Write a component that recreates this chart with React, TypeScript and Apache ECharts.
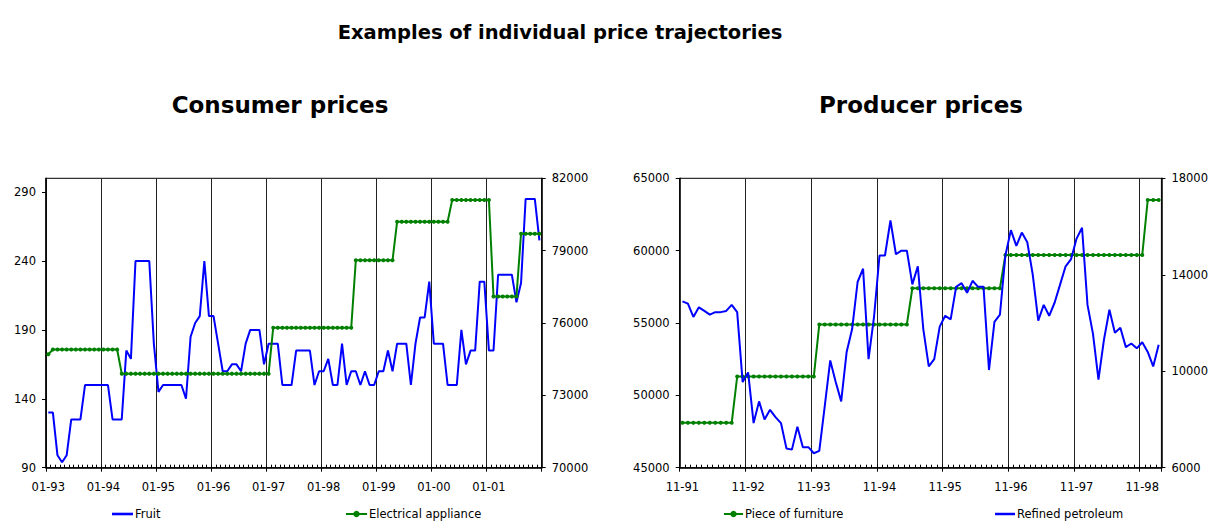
import React, { useEffect, useRef } from "react";
import * as echarts from "echarts";

// ---------- DATA ----------
const consumerTickLabels = ["01-93", "01-94", "01-95", "01-96", "01-97", "01-98", "01-99", "01-00", "01-01"];
const producerTickLabels = ["11-91", "11-92", "11-93", "11-94", "11-95", "11-96", "11-97", "11-98"];
const consumerMonthCount = 108;
const producerMonthCount = 88;

const fruit = [
  130, 130, 99, 94, 99, 125, 125, 125, 150, 150, 150, 150,
  150, 150, 125, 125, 125, 175, 169, 240, 240, 240, 240, 180,
  145, 150, 150, 150, 150, 150, 140, 185, 195, 200, 240, 200,
  200, 180, 160, 160, 165, 165, 160, 180, 190, 190, 190, 165,
  180, 180, 180, 150, 150, 150, 175, 175, 175, 175, 150, 160,
  160, 169, 150, 150, 180, 150, 160, 160, 150, 160, 150, 150,
  160, 160, 175, 160, 180, 180, 180, 150, 180, 199, 199, 225,
  180, 180, 180, 150, 150, 150, 190, 165, 175, 175, 225, 225,
  175, 175, 230, 230, 230, 230, 210, 224, 285, 285, 285, 255,
];

const electricalAppliance = [
  74700, 74900, 74900, 74900, 74900, 74900, 74900, 74900, 74900, 74900, 74900, 74900,
  74900, 74900, 74900, 74900, 73900, 73900, 73900, 73900, 73900, 73900, 73900, 73900,
  73900, 73900, 73900, 73900, 73900, 73900, 73900, 73900, 73900, 73900, 73900, 73900,
  73900, 73900, 73900, 73900, 73900, 73900, 73900, 73900, 73900, 73900, 73900, 73900,
  73900, 75800, 75800, 75800, 75800, 75800, 75800, 75800, 75800, 75800, 75800, 75800,
  75800, 75800, 75800, 75800, 75800, 75800, 75800, 78600, 78600, 78600, 78600, 78600,
  78600, 78600, 78600, 78600, 80200, 80200, 80200, 80200, 80200, 80200, 80200, 80200,
  80200, 80200, 80200, 80200, 81100, 81100, 81100, 81100, 81100, 81100, 81100, 81100,
  81100, 77100, 77100, 77100, 77100, 77100, 77100, 79700, 79700, 79700, 79700, 79700,
];

const pieceOfFurniture = [
  48100, 48100, 48100, 48100, 48100, 48100, 48100, 48100, 48100, 48100, 51300, 51300,
  51300, 51300, 51300, 51300, 51300, 51300, 51300, 51300, 51300, 51300, 51300, 51300,
  51300, 54900, 54900, 54900, 54900, 54900, 54900, 54900, 54900, 54900, 54900, 54900,
  54900, 54900, 54900, 54900, 54900, 54900, 57400, 57400, 57400, 57400, 57400, 57400,
  57400, 57400, 57400, 57400, 57400, 57400, 57400, 57400, 57400, 57400, 57400, 59700,
  59700, 59700, 59700, 59700, 59700, 59700, 59700, 59700, 59700, 59700, 59700, 59700,
  59700, 59700, 59700, 59700, 59700, 59700, 59700, 59700, 59700, 59700, 59700, 59700,
  59700, 63500, 63500, 63500,
];

const refinedPetroleum = [
  12900, 12800, 12250, 12650, 12500, 12350, 12450, 12450, 12500, 12750, 12450, 9550,
  9950, 7850, 8750, 8000, 8400, 8100, 7850, 6800, 6750, 7700, 6850, 6850,
  6600, 6700, 8550, 10450, 9550, 8750, 10800, 11750, 13700, 14250, 10500, 12250,
  14800, 14800, 16250, 14850, 15000, 15000, 13600, 14350, 11750, 10200, 10500, 11850,
  12300, 12150, 13500, 13650, 13250, 13750, 13500, 13500, 10050, 12050, 12350, 14800,
  15850, 15200, 15750, 15350, 14000, 12100, 12750, 12300, 12850, 13600, 14350, 14650,
  15500, 15950, 12750, 11550, 9650, 11300, 12550, 11600, 11800, 11000, 11150, 10950,
  11200, 10800, 10200, 11100,
];

// ---------- helpers ----------
function monthsFromTickLabels(ticks: string[], count: number): string[] {
  const out: string[] = [];
  ticks.forEach((t) => {
    const [mStr, yStr] = t.split("-");
    let m = parseInt(mStr, 10);
    let y = parseInt(yStr, 10);
    for (let k = 0; k < 12; k++) {
      out.push(String(m).padStart(2, "0") + "-" + String(y % 100).padStart(2, "0"));
      m += 1;
      if (m > 12) {
        m = 1;
        y += 1;
      }
    }
  });
  while (out.length < count) out.push("");
  return out.slice(0, count);
}

const consumerMonths = monthsFromTickLabels(consumerTickLabels, consumerMonthCount);
const producerMonths = monthsFromTickLabels(producerTickLabels, producerMonthCount);

const FONT = "DejaVu Sans";
const BLUE = "#0000FF";
const GREEN = "#008000";

const GRID_TOP = 178.3;
const GRID_H = 289.4;

function mainXAxis(gridIndex: number, data: string[]) {
  return {
    type: "category",
    gridIndex,
    data,
    boundaryGap: true,
    position: "bottom",
    axisLine: { show: true, onZero: false, lineStyle: { color: "#000", width: 1.5 } },
    axisTick: { show: true, interval: 11, inside: false, length: 4, lineStyle: { color: "#000", width: 1 } },
    axisLabel: { show: true, interval: 11, margin: 13, color: "#000", fontFamily: FONT, fontSize: 11.5 },
    splitLine: { show: true, interval: 11, lineStyle: { color: "#222", width: 1 } },
  };
}

function minorXAxis(gridIndex: number, data: string[]) {
  return {
    type: "category",
    gridIndex,
    data,
    boundaryGap: true,
    position: "bottom",
    axisLine: { show: false, onZero: false },
    axisTick: { show: true, interval: 0, inside: true, length: 3, lineStyle: { color: "#000", width: 1 } },
    axisLabel: { show: false },
    splitLine: { show: false },
  };
}

function valueYAxis(gridIndex: number, position: string, min: number, max: number, interval: number) {
  return {
    type: "value",
    gridIndex,
    position,
    min,
    max,
    interval,
    axisLine: { show: true, onZero: false, lineStyle: { color: "#000", width: 1.5 } },
    axisTick: { show: true, inside: false, length: 4, lineStyle: { color: "#000", width: 1 } },
    axisLabel: {
      show: true,
      margin: 10,
      showMaxLabel: (max - min) % interval === 0,
      color: "#000",
      fontFamily: FONT,
      fontSize: 11.5,
      formatter: (v: number) => String(v),
    },
    splitLine: { show: false },
  };
}

const THIN_LINE_ICON = "path://M0,0L21,0L21,2.6L0,2.6Z";

function legendAt(name: string, left: number, itemWidth: number, plainLine: boolean) {
  return {
    show: true,
    data: plainLine ? [{ name, icon: THIN_LINE_ICON }] : [name],
    left,
    top: 508,
    orient: "horizontal",
    itemWidth,
    itemHeight: 8,
    itemGap: 0,
    padding: 0,
    symbolKeepAspect: true,
    textStyle: {
      color: "#000",
      fontFamily: FONT,
      fontSize: 11.5,
      padding: [0, 0, 0, -3],
    },
  };
}

export default function App() {
  const ref = useRef<HTMLDivElement>(null);

  useEffect(() => {
    if (!ref.current) return;
    const chart = echarts.init(ref.current, undefined, { renderer: "svg" });

    const option: any = {
      animation: false,
      backgroundColor: "#fff",
      textStyle: { fontFamily: FONT },
      graphic: [
        {
          type: "text",
          x: 560,
          y: 32,
          style: {
            text: "Examples of individual price trajectories",
            fontFamily: FONT,
            fontWeight: "bold",
            fontSize: 19.5,
            fill: "#000",
            align: "center",
            verticalAlign: "middle",
          },
        },
        {
          type: "text",
          x: 280,
          y: 105,
          style: {
            text: "Consumer prices",
            fontFamily: FONT,
            fontWeight: "bold",
            fontSize: 23,
            fill: "#000",
            align: "center",
            verticalAlign: "middle",
          },
        },
        {
          type: "text",
          x: 921,
          y: 105,
          style: {
            text: "Producer prices",
            fontFamily: FONT,
            fontWeight: "bold",
            fontSize: 23,
            fill: "#000",
            align: "center",
            verticalAlign: "middle",
          },
        },
      ],
      grid: [
        { left: 46, top: GRID_TOP, width: 495.7, height: GRID_H, show: true, borderColor: "#000", borderWidth: 1, backgroundColor: "transparent", containLabel: false },
        { left: 679.7, top: GRID_TOP, width: 482, height: GRID_H, show: true, borderColor: "#000", borderWidth: 1, backgroundColor: "transparent", containLabel: false },
      ],
      xAxis: [
        mainXAxis(0, consumerMonths),
        minorXAxis(0, consumerMonths),
        mainXAxis(1, producerMonths),
        minorXAxis(1, producerMonths),
      ],
      yAxis: [
        valueYAxis(0, "left", 90, 300, 50),
        valueYAxis(0, "right", 70000, 82000, 3000),
        valueYAxis(1, "left", 45000, 65000, 5000),
        valueYAxis(1, "right", 6000, 18000, 4000),
      ],
      legend: [
        legendAt("Fruit", 112, 21, true),
        legendAt("Electrical appliance", 345, 21, false),
        legendAt("Piece of furniture", 723, 19, false),
        legendAt("Refined petroleum", 995, 20, true),
      ],
      series: [
        {
          name: "Fruit",
          type: "line",
          xAxisIndex: 0,
          yAxisIndex: 0,
          data: fruit,
          symbol: "none",
          color: BLUE,
          lineStyle: { color: BLUE, width: 2 },
          z: 2,
        },
        {
          name: "Electrical appliance",
          type: "line",
          xAxisIndex: 0,
          yAxisIndex: 1,
          data: electricalAppliance,
          symbol: "circle",
          symbolSize: 4,
          showSymbol: true,
          showAllSymbol: true,
          color: GREEN,
          itemStyle: { color: GREEN },
          lineStyle: { color: GREEN, width: 2 },
          z: 3,
        },
        {
          name: "Piece of furniture",
          type: "line",
          xAxisIndex: 2,
          yAxisIndex: 2,
          data: pieceOfFurniture,
          symbol: "circle",
          symbolSize: 4,
          showSymbol: true,
          showAllSymbol: true,
          color: GREEN,
          itemStyle: { color: GREEN },
          lineStyle: { color: GREEN, width: 2 },
          z: 2,
        },
        {
          name: "Refined petroleum",
          type: "line",
          xAxisIndex: 2,
          yAxisIndex: 3,
          data: refinedPetroleum,
          symbol: "none",
          color: BLUE,
          lineStyle: { color: BLUE, width: 2 },
          z: 3,
        },
      ],
    };

    chart.setOption(option);
    return () => {
      chart.dispose();
    };
  }, []);

  return (
    <div
      ref={ref}
      style={{ position: "fixed", left: 0, top: 0, width: 1211, height: 523, background: "#fff" }}
    />
  );
}
